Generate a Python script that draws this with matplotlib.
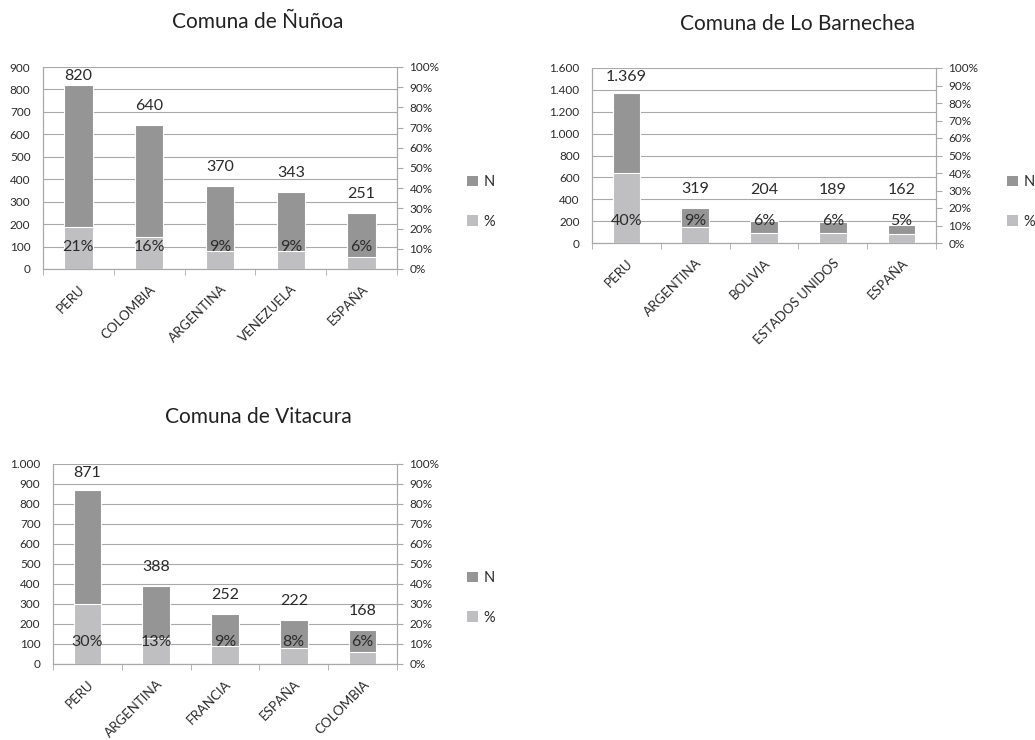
import matplotlib
matplotlib.use("Agg")
import matplotlib.pyplot as plt
import matplotlib.transforms as mtransforms
from matplotlib.patches import Patch
from matplotlib.ticker import FuncFormatter, MultipleLocator, FixedLocator

plt.rcParams['font.family'] = ['Lato', 'DejaVu Sans']

# data
nunoa_countries = ["PERU", "COLOMBIA", "ARGENTINA", "VENEZUELA", "ESPAÑA"]
nunoa_n = [820, 640, 370, 343, 251]
nunoa_pct = [21, 16, 9, 9, 6]

barnechea_countries = ["PERU", "ARGENTINA", "BOLIVIA", "ESTADOS UNIDOS", "ESPAÑA"]
barnechea_n = [1369, 319, 204, 189, 162]
barnechea_pct = [40, 9, 6, 6, 5]

vitacura_countries = ["PERU", "ARGENTINA", "FRANCIA", "ESPAÑA", "COLOMBIA"]
vitacura_n = [871, 388, 252, 222, 168]
vitacura_pct = [30, 13, 9, 8, 6]

DARK = '#959595'
LIGHT = '#bfbfc1'
GRID = '#a9a9a9'
TXT = '#2b2b2b'

W, H = 1035, 740
fig = plt.figure(figsize=(W / 100, H / 100), dpi=100)


def thousands(v, pos):
    return f"{int(v):,}".replace(",", ".")


def panel(rect_px, title, title_xy, legend_xy, countries, n, pct, ymax, ystep):
    x0, y0, x1, y1 = rect_px
    ax = fig.add_axes([x0 / W, 1 - y1 / H, (x1 - x0) / W, (y1 - y0) / H])
    h_px = y1 - y0
    xs = list(range(len(countries)))

    ax.bar(xs, n, width=0.4, color=DARK, edgecolor='white', linewidth=0.8, zorder=2)
    ax.set_ylim(0, ymax)
    ax.set_xlim(-0.5, len(countries) - 0.5)
    ax.yaxis.set_major_locator(MultipleLocator(ystep))
    ax.yaxis.set_major_formatter(FuncFormatter(thousands))
    ax.grid(axis='y', color=GRID, linewidth=0.8, zorder=0)
    ax.set_axisbelow(True)
    ax.tick_params(axis='y', length=0, labelsize=8.5, labelcolor=TXT, pad=9)
    ax.set_xticks(xs)
    ax.set_xticklabels(countries, rotation=45, ha='right', rotation_mode='anchor',
                       fontsize=9.5, color=TXT)
    ax.tick_params(axis='x', which='major', length=0, pad=10)
    ax.xaxis.set_minor_locator(FixedLocator([i - 0.5 for i in range(len(countries) + 1)]))
    ax.tick_params(axis='x', which='minor', length=4, color=GRID, direction='out')
    ax.spines['top'].set_visible(False)
    for s in ['left', 'bottom', 'right']:
        ax.spines[s].set_color(GRID)

    ax2 = ax.twinx()
    ax2.bar(xs, pct, width=0.4, color=LIGHT, edgecolor='white', linewidth=0.8, zorder=2)
    ax2.set_ylim(0, 100)
    ax2.yaxis.set_major_locator(MultipleLocator(10))
    ax2.yaxis.set_major_formatter(FuncFormatter(lambda v, p: f"{int(v)}%"))
    ax2.tick_params(axis='y', length=4, color=GRID, labelsize=8.5, labelcolor=TXT, pad=5)
    ax2.spines['top'].set_visible(False)
    for s in ['left', 'bottom', 'right']:
        ax2.spines[s].set_color(GRID)

    tr = mtransforms.blended_transform_factory(ax2.transData, ax2.transAxes)
    for i in xs:
        frac = n[i] / ymax
        lab = min(max(frac + 19 / h_px, 53 / h_px), 1 - 9 / h_px)
        ax2.text(i, lab, thousands(n[i], None), transform=tr, ha='center', va='center',
                 fontsize=11.5, color=TXT, clip_on=False)
        ax2.text(i, 22 / h_px, f"{pct[i]}%", transform=tr, ha='center', va='center',
                 fontsize=11.5, color=TXT, clip_on=False)

    handles = [Patch(facecolor=DARK, label='N'), Patch(facecolor=LIGHT, label='%')]
    fig.legend(handles=handles, loc='center left',
               bbox_to_anchor=(legend_xy[0] / W, 1 - legend_xy[1] / H),
               frameon=False, handlelength=0.75, handleheight=0.75, handletextpad=0.4,
               labelspacing=1.75, fontsize=10.5, labelcolor=TXT,
               borderpad=0, borderaxespad=0)

    fig.text(title_xy[0] / W, 1 - title_xy[1] / H, title, ha='center', va='baseline',
             fontsize=15, color='#222222')


panel((43, 67, 397, 269), "Comuna de Ñuñoa", (258, 28), (467, 202),
      nunoa_countries, nunoa_n, nunoa_pct, 900, 100)
panel((592, 68, 936, 243), "Comuna de Lo Barnechea", (797, 30), (1007, 202),
      barnechea_countries, barnechea_n, barnechea_pct, 1600, 200)
panel((53, 464, 397, 664), "Comuna de Vitacura", (258, 423), (467, 598),
      vitacura_countries, vitacura_n, vitacura_pct, 1000, 100)

fig.savefig("out.png", dpi=100, facecolor='white')
